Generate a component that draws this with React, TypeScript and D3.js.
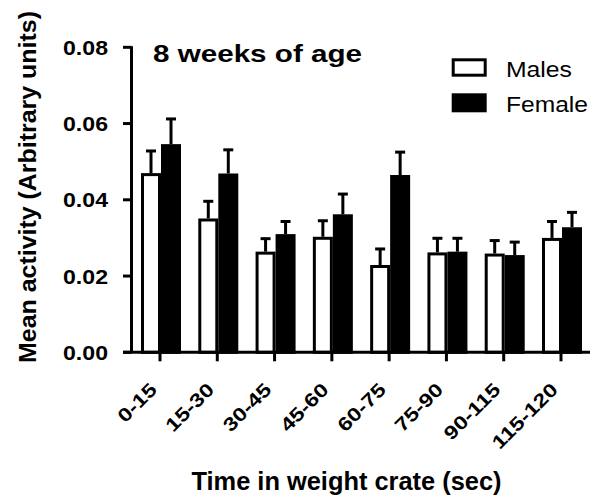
import React from "react";
import * as d3 from "d3";

// values
const categories = ["0-15", "15-30", "30-45", "45-60", "60-75", "75-90", "90-115", "115-120"];
const series = ["Males", "Female"];
const males = [0.047, 0.0351, 0.0264, 0.0303, 0.0229, 0.0262, 0.0259, 0.03];
const malesSem = [0.0062, 0.0049, 0.0038, 0.0046, 0.0046, 0.0041, 0.0038, 0.0047];
const females = [0.0546, 0.0469, 0.031, 0.0362, 0.0465, 0.0264, 0.0255, 0.0328];
const femalesSem = [0.007, 0.0066, 0.0037, 0.0057, 0.0064, 0.0039, 0.0038, 0.0043];
const yTicks = [0, 0.02, 0.04, 0.06, 0.08];

const W = 590;
const H = 496;
const font = "'Liberation Sans', Arial, sans-serif";

export default function App() {
    const y = d3.scaleLinear().domain([0, 0.08]).range([352.3, 47.3]);
    const x = d3.scalePoint<string>().domain(categories).range([160, 561]);
    const sub = d3.scaleBand<string>().domain(series).range([-19, 21]);
    const axisX = 131.5;
    const sw = 3;

    const groups = categories.map((c, i) => ({
        cat: c,
        bars: [
            { s: "Males", v: males[i], e: malesSem[i] },
            { s: "Female", v: females[i], e: femalesSem[i] },
        ],
    }));

    return (
        <svg width={W} height={H} style={{ position: "absolute", left: 0, top: 0, background: "#fff" }}>
            {/* bars */}
            {groups.map(g => (
                <g key={g.cat} transform={`translate(${x(g.cat)},0)`}>
                    {g.bars.map(b => {
                        const x0 = sub(b.s)! + sw / 2;
                        const bw = sub.bandwidth() - sw;
                        const top = y(b.v) + sw / 2;
                        const cx = sub(b.s)! + sub.bandwidth() / 2;
                        const errTop = y(b.v + b.e) + sw / 2;
                        return (
                            <g key={b.s}>
                                <line x1={cx} x2={cx} y1={y(b.v)} y2={errTop} stroke="#000" strokeWidth={sw} />
                                <line x1={cx - 5} x2={cx + 5} y1={errTop} y2={errTop} stroke="#000" strokeWidth={sw} />
                                <rect
                                    x={x0}
                                    y={top}
                                    width={bw}
                                    height={y(0) - top}
                                    fill={b.s === "Males" ? "#fff" : "#000"}
                                    stroke="#000"
                                    strokeWidth={sw}
                                />
                            </g>
                        );
                    })}
                </g>
            ))}

            {/* y axis */}
            <line x1={axisX} x2={axisX} y1={y(0.08) - 1} y2={y(0)} stroke="#000" strokeWidth={sw} />
            {yTicks.map(t => (
                <g key={t}>
                    <line x1={123} x2={axisX} y1={y(t)} y2={y(t)} stroke="#000" strokeWidth={sw} />
                    <text
                        x={108}
                        y={y(t) + 7.5}
                        textAnchor="end"
                        fontFamily={font}
                        fontWeight="bold"
                        fontSize={20}
                        textLength={45}
                        lengthAdjust="spacingAndGlyphs"
                    >
                        {d3.format(".2f")(t)}
                    </text>
                </g>
            ))}

            {/* x axis */}
            <line x1={123} x2={590} y1={y(0)} y2={y(0)} stroke="#000" strokeWidth={sw} />
            {categories.map(c => (
                <g key={c}>
                    <line x1={x(c)} x2={x(c)} y1={y(0)} y2={y(0) + 9} stroke="#000" strokeWidth={sw} />
                    <g transform={`translate(${x(c)! - 2},391) rotate(-45) scale(1.22,1)`}>
                        <text textAnchor="end" fontFamily={font} fontWeight="bold" fontSize={19}>
                            {c}
                        </text>
                    </g>
                </g>
            ))}

            {/* titles */}
            <text
                x={153}
                y={61.7}
                fontFamily={font}
                fontWeight="bold"
                fontSize={24}
                textLength={209}
                lengthAdjust="spacingAndGlyphs"
            >
                8 weeks of age
            </text>
            <text
                transform="translate(35.5,187) rotate(-90)"
                textAnchor="middle"
                fontFamily={font}
                fontWeight="bold"
                fontSize={23.5}
                textLength={352}
                lengthAdjust="spacingAndGlyphs"
            >
                Mean activity (Arbitrary units)
            </text>
            <text
                x={191.5}
                y={490}
                fontFamily={font}
                fontWeight="bold"
                fontSize={25.5}
                textLength={310}
                lengthAdjust="spacingAndGlyphs"
            >
                Time in weight crate (sec)
            </text>

            {/* legend */}
            <rect x={453.2} y={59.8} width={32} height={15.4} fill="#fff" stroke="#000" strokeWidth={sw} />
            <text x={506} y={77.3} fontFamily={font} fontSize={22.5} textLength={66} lengthAdjust="spacingAndGlyphs">
                Males
            </text>
            <rect x={451.7} y={93.3} width={35} height={19} fill="#000" />
            <text x={506} y={112} fontFamily={font} fontSize={22.5} textLength={82} lengthAdjust="spacingAndGlyphs">
                Female
            </text>
        </svg>
    );
}
